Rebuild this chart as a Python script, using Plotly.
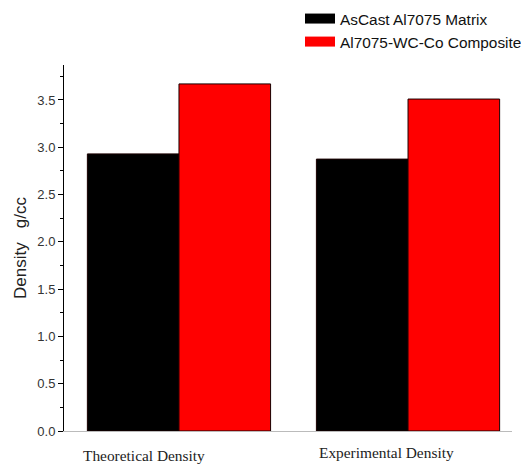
import plotly.graph_objects as go

categories = ["Theoretical Density", "Experimental Density"]
matrix_vals = [2.93, 2.875]
composite_vals = [3.67, 3.51]
series_names = ["AsCast Al7075 Matrix", "Al7075-WC-Co Composite"]
series_colors = ["#000000", "#ff0000"]
y_ticks = [0.0, 0.5, 1.0, 1.5, 2.0, 2.5, 3.0, 3.5]

x_pos = list(range(len(categories)))

fig = go.Figure()
for vals, name, col in zip([matrix_vals, composite_vals], series_names, series_colors):
    fig.add_trace(go.Bar(x=x_pos, y=vals, name=name, showlegend=False, legendgroup=name,
                         marker=dict(color=col, line=dict(color="#1a0000", width=1))))
# legend entries drawn as wide swatches
for name, col in zip(series_names, series_colors):
    fig.add_trace(go.Scatter(x=[None], y=[None], mode="lines", name=name, legendgroup=name,
                             line=dict(color=col, width=13), hoverinfo="skip"))

label_offsets = [-0.153, -0.092]
label_y = [-0.0656, -0.0574]
for i, c in enumerate(categories):
    fig.add_annotation(x=i + label_offsets[i], y=label_y[i], xref="x", yref="paper",
                       text=c, showarrow=False, yanchor="middle",
                       font=dict(family="Liberation Serif", size=15.4, color="#222"))

fig.update_layout(
    width=529, height=467,
    margin=dict(l=56, r=25, t=57, b=44, autoexpand=False),
    paper_bgcolor="white", plot_bgcolor="white",
    barmode="group", bargap=0.2, bargroupgap=0,
    showlegend=True,
    legend=dict(x=0.552, y=1.172, xref="container", yref="paper", xanchor="left", yanchor="top",
                font=dict(family="Liberation Sans", size=15.4, color="#111"),
                bgcolor="rgba(0,0,0,0)", itemwidth=30, tracegroupgap=0),
    font=dict(family="Liberation Sans", color="#333"),
)
fig.update_xaxes(range=[-0.502, 1.454], showticklabels=False, ticks="",
                 showline=True, linecolor="#bbbbbb", linewidth=1, showgrid=False, zeroline=False)
fig.update_yaxes(range=[0, 3.87], tickvals=y_ticks, ticktext=[f"{v:.1f}" for v in y_ticks],
                 ticks="outside", ticklen=5, tickwidth=1, tickcolor="#000", automargin=False,
                 minor=dict(dtick=0.25, ticks="outside", ticklen=3, tickcolor="#000", showgrid=False),
                 showline=True, linecolor="#000", linewidth=1, showgrid=False, zeroline=False,
                 tickfont=dict(size=13, color="#333"),
                 title=dict(text="Density\u00a0\u00a0 g/cc", font=dict(size=17, color="#222"), standoff=6))

fig.write_html("out.html")
